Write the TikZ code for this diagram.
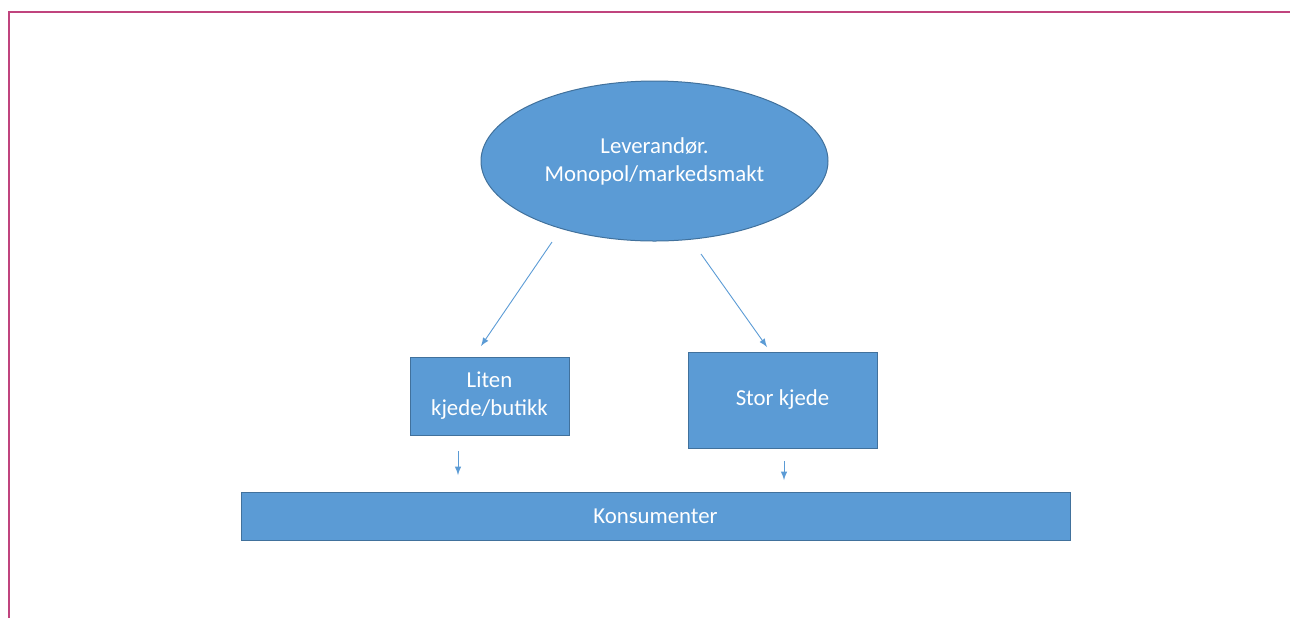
\documentclass[tikz,border=0pt]{standalone}
\usepackage{fontspec}
\setmainfont{Carlito}
\usetikzlibrary{positioning,arrows,shapes.geometric}
\definecolor{boxblue}{HTML}{5B9BD5}
\definecolor{boxedge}{HTML}{41719C}
\definecolor{framepink}{HTML}{C0447E}
\begin{document}
\begin{tikzpicture}
    \tikzset{x=0.5pt,y=-0.5pt,every path/.style={>=latex},
      box style/.style={draw=boxedge,fill=boxblue,text=white,inner sep=0pt,align=center,line width=0.5pt,
        font=\fontsize{11.4}{14}\selectfont},
      arrow style/.style={->,draw=boxblue,line width=0.45pt}}
    \useasboundingbox (0,0) rectangle (1290,618);
    \draw[framepink,line width=0.9pt] (9,618)--(9,12)--(1290,12);
%    ellipse at the top
    \node [box style,ellipse,minimum width=173.5pt,minimum height=80pt]   (lev) at (654.5,161)  {Leverandør.\\Monopol/markedsmakt};
    \node [box style,minimum width=79.5pt,minimum height=39pt]   (liten) at (489.5,396)  {Liten\\kjede/butikk};
    \node [box style,minimum width=94.5pt,minimum height=48pt]   (stor) at (782.5,400)  {Stor kjede};
    \node [box style,minimum width=414.5pt,minimum height=24pt]   (kons) at (655.5,516)  {Konsumenter};
    \coordinate (a1) at (552,242); \coordinate (b1) at (481,346);
    \coordinate (a2) at (701,254); \coordinate (b2) at (767,347);
    \coordinate (a3) at (458,451); \coordinate (b3) at (458,475);
    \coordinate (a4) at (784,461); \coordinate (b4) at (784,480);
    \foreach \i in {1,...,4}
      {\draw[arrow style] (a\i)--(b\i);}
\end{tikzpicture}
\end{document}
